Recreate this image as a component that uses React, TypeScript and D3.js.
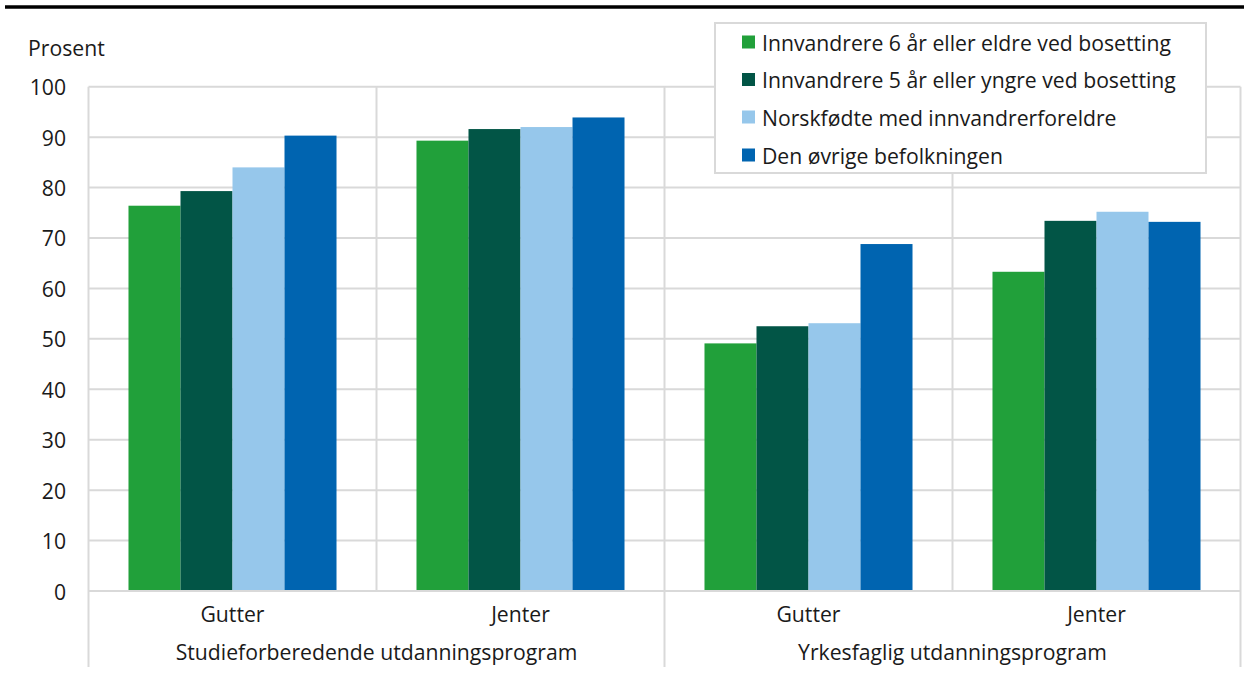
import React from "react";
import * as d3 from "d3";

const groups = ["Studieforberedende utdanningsprogram", "Yrkesfaglig utdanningsprogram"];
const categories = ["Gutter", "Jenter", "Gutter", "Jenter"];
const categoryGroup = [0, 0, 1, 1];
const series = [
  "Innvandrere 6 år eller eldre ved bosetting",
  "Innvandrere 5 år eller yngre ved bosetting",
  "Norskfødte med innvandrerforeldre",
  "Den øvrige befolkningen",
];
const colors = ["#21a03a", "#025546", "#96c7eb", "#0064b0"];
const s1 = [76.4, 89.3, 49.1, 63.3];
const s2 = [79.3, 91.6, 52.5, 73.4];
const s3 = [84.0, 92.0, 53.1, 75.2];
const s4 = [90.3, 93.9, 68.8, 73.2];
const values = [s1, s2, s3, s4];
const yTicks = [0, 10, 20, 30, 40, 50, 60, 70, 80, 90, 100];
const yLabel = "Prosent";

const W = 1244;
const H = 673;
const FONT = "'Open Sans', 'Noto Sans', sans-serif";
const FS = 21.2;
const GRID = "#d9d9d9";
const TEXT = "#1a1a1a";

export default function App() {
  const left = 88.5;
  const right = 1240.5;
  const y = d3.scaleLinear().domain([0, 100]).range([591, 86.7]);
  const x0 = d3
    .scaleBand<number>()
    .domain(categories.map((_, i) => i))
    .range([left, right])
    .paddingInner(0)
    .paddingOuter(0);
  const x1 = d3
    .scaleBand<number>()
    .domain(series.map((_, i) => i))
    .range([0, x0.bandwidth()])
    .paddingInner(0)
    .paddingOuter(0.769);

  const groupBounds = groups.map((_, g) => {
    const idx = categoryGroup.map((gg, i) => (gg === g ? i : -1)).filter((i) => i >= 0);
    const a = x0(idx[0])!;
    const b = x0(idx[idx.length - 1])! + x0.bandwidth();
    return [a, b];
  });

  const legend = { x: 715, y: 23, w: 491, h: 150 };
  const legendRows = [42, 79.5, 117, 155];

  return (
    <svg width={W} height={H} style={{ position: "absolute", left: 0, top: 0, display: "block" }} fontFamily={FONT}>
      <rect x={0} y={0} width={W} height={H} fill="#fff" />
      <line x1={5} x2={W} y1={7} y2={7} stroke="#000" strokeWidth={3.4} />
      <text x={28} y={47} fontSize={FS} fill={TEXT} dominantBaseline="central">
        {yLabel}
      </text>
      {yTicks.map((t) => (
        <line key={"g" + t} x1={left} x2={right} y1={y(t)} y2={y(t)} stroke={GRID} strokeWidth={2} />
      ))}
      {categories.map((_, i) => (
        <line key={"v" + i} x1={x0(i)!} x2={x0(i)!} y1={y(100)} y2={y(0)} stroke={GRID} strokeWidth={2} />
      ))}
      <line x1={right} x2={right} y1={y(100)} y2={y(0)} stroke={GRID} strokeWidth={2} />
      {[groupBounds[0][0], groupBounds[0][1], groupBounds[1][1]].map((xx, i) => (
        <line key={"gs" + i} x1={xx} x2={xx} y1={y(0)} y2={667} stroke={GRID} strokeWidth={2} />
      ))}
      {yTicks.map((t) => (
        <text key={"t" + t} x={66} y={y(t)} fontSize={FS} fill={TEXT} textAnchor="end" dominantBaseline="central">
          {t}
        </text>
      ))}
      {values.map((vals, s) =>
        vals.map((v, c) => (
          <rect
            key={`b${s}-${c}`}
            x={x0(c)! + x1(s)!}
            y={y(v)}
            width={x1.bandwidth()}
            height={y(0) - y(v)}
            fill={colors[s]}
          />
        ))
      )}
      <line x1={left} x2={right} y1={y(0)} y2={y(0)} stroke={GRID} strokeWidth={2} />
      {categories.map((c, i) => (
        <text key={"c" + i} x={x0(i)! + x0.bandwidth() / 2} y={613} fontSize={FS} fill={TEXT} textAnchor="middle" dominantBaseline="central">
          {c}
        </text>
      ))}
      {groups.map((g, i) => (
        <text key={"gr" + i} x={(groupBounds[i][0] + groupBounds[i][1]) / 2} y={651} fontSize={FS} fill={TEXT} textAnchor="middle" dominantBaseline="central">
          {g}
        </text>
      ))}
      <rect x={legend.x} y={legend.y} width={legend.w} height={legend.h} fill="#fff" stroke={GRID} strokeWidth={2} />
      {series.map((s, i) => (
        <g key={"l" + i}>
          <rect x={742} y={legendRows[i] - 6.5} width={13} height={13} fill={colors[i]} />
          <text x={762} y={legendRows[i]} fontSize={FS} fill={TEXT} dominantBaseline="central">
            {s}
          </text>
        </g>
      ))}
    </svg>
  );
}
